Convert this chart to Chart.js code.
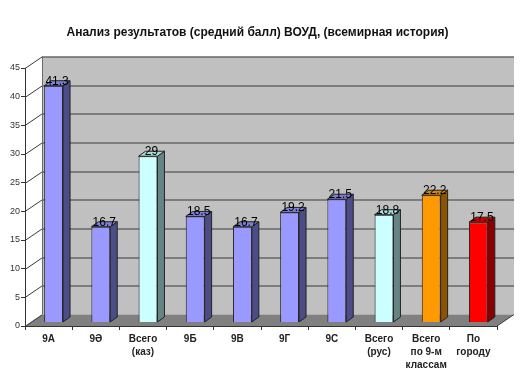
<!DOCTYPE html>
<html>
<head>
<meta charset="utf-8">
<script src="https://cdn.jsdelivr.net/npm/chart.js@4"></script>
<style>
  html, body { margin: 0; padding: 0; background: #fff; }
  #wrap { width: 520px; height: 390px; }
</style>
</head>
<body>
<div id="wrap"><canvas id="chart" width="520" height="390"></canvas></div>
<script>
// Chart data
const categories = ['9А', '9Ә', ['Всего', '(каз)'], '9Б', '9В', '9Г', '9С', ['Всего', '(рус)'], ['Всего', 'по 9-м', 'классам'], ['По', 'городу']];
const values = [41.3, 16.7, 29, 18.5, 16.7, 19.2, 21.5, 18.8, 22.2, 17.5];
const yMax = 45;
const yStep = 5;

// Bar colours (front / side / top)
const frontColors = ['#9999FF', '#9999FF', '#CCFFFF', '#9999FF', '#9999FF', '#9999FF', '#9999FF', '#CCFFFF', '#FF9900', '#FF0000'];
const sideColors  = ['#4C4C86', '#4C4C86', '#658585', '#4C4C86', '#4C4C86', '#4C4C86', '#4C4C86', '#658585', '#8A5400', '#8A0000'];
const topColors   = ['#7F7FD6', '#7F7FD6', '#A8DADA', '#7F7FD6', '#7F7FD6', '#7F7FD6', '#7F7FD6', '#A8DADA', '#D98400', '#CC0000'];

const FONT = '"Liberation Sans", Arial, sans-serif';

// 3D look: wall depth, bar offset and bar depth
const wallDepth = { x: 17, y: -11.5 };
const barShift = { x: 5, y: -3.5 };
const barDepth = { x: 7, y: -5 };

const box3d = {
    id: 'box3d',
    afterLayout(chart) {
        // title sits centred over the plot, not the whole canvas
        const t = chart.titleBlock;
        if (t) { t.left += 9; t.right += 9; }
    },
    beforeDatasetsDraw(chart) {
        const ctx = chart.ctx;
        const area = chart.chartArea;
        const y = chart.scales.y;
        const dx = wallDepth.x, dy = wallDepth.y;
        ctx.save();
        // back wall
        ctx.fillStyle = '#C0C0C0';
        ctx.fillRect(area.left + dx, area.top + dy, area.right - area.left, area.bottom - area.top);
        // floor
        ctx.fillStyle = '#808080';
        ctx.beginPath();
        ctx.moveTo(area.left, area.bottom);
        ctx.lineTo(area.right, area.bottom);
        ctx.lineTo(area.right + dx, area.bottom + dy);
        ctx.lineTo(area.left + dx, area.bottom + dy);
        ctx.closePath();
        ctx.fill();
        // grid lines on side and back walls
        ctx.strokeStyle = '#3A3A3A';
        ctx.lineWidth = 1;
        y.ticks.forEach(t => {
            const py = Math.round(y.getPixelForValue(t.value)) + 0.5;
            ctx.beginPath();
            ctx.moveTo(area.left, py);
            ctx.lineTo(area.left + dx, py + dy);
            if (t.value > 0) ctx.lineTo(area.right + dx, py + dy);
            ctx.stroke();
        });
        // wall edges
        ctx.strokeStyle = '#6A6A6A';
        ctx.beginPath();
        ctx.moveTo(area.left + dx + 0.5, area.top + dy);
        ctx.lineTo(area.left + dx + 0.5, area.bottom + dy);
        ctx.stroke();
        ctx.strokeStyle = '#3A3A3A';
        ctx.beginPath();
        ctx.moveTo(area.right, area.bottom);
        ctx.lineTo(area.right + dx, area.bottom + dy);
        ctx.stroke();
        ctx.restore();

        // shift bars into the middle of the depth
        ctx.save();
        ctx.translate(barShift.x, barShift.y);
    },
    afterDatasetsDraw(chart) {
        const ctx = chart.ctx;
        const meta = chart.getDatasetMeta(0);
        const bx = barDepth.x, by = barDepth.y;
        meta.data.forEach((bar, i) => {
            const p = bar.getProps(['x', 'y', 'base', 'width'], true);
            const l = p.x - p.width / 2, r = p.x + p.width / 2;
            ctx.lineWidth = 1;
            ctx.strokeStyle = '#222';
            // side face
            ctx.fillStyle = sideColors[i];
            ctx.beginPath();
            ctx.moveTo(r, p.base);
            ctx.lineTo(r + bx, p.base + by);
            ctx.lineTo(r + bx, p.y + by);
            ctx.lineTo(r, p.y);
            ctx.closePath();
            ctx.fill();
            ctx.stroke();
            // top face
            ctx.fillStyle = topColors[i];
            ctx.beginPath();
            ctx.moveTo(l, p.y);
            ctx.lineTo(l + bx, p.y + by);
            ctx.lineTo(r + bx, p.y + by);
            ctx.lineTo(r, p.y);
            ctx.closePath();
            ctx.fill();
            ctx.stroke();
        });
        // value labels
        ctx.fillStyle = '#000';
        ctx.font = '12px ' + FONT;
        ctx.textAlign = 'center';
        ctx.textBaseline = 'alphabetic';
        meta.data.forEach((bar, i) => {
            const p = bar.getProps(['x', 'y'], true);
            ctx.fillText(String(values[i]), p.x + bx / 2, p.y - 1);
        });
        ctx.restore();
    }
};

const ctx = document.getElementById('chart').getContext('2d');
const chart = new Chart(ctx, {
    type: 'bar',
    data: {
        labels: categories,
        datasets: [{
            data: values,
            backgroundColor: frontColors,
            borderColor: '#222',
            borderWidth: 1,
            barPercentage: 0.4,
            categoryPercentage: 1,
            clip: false
        }]
    },
    options: {
        responsive: false,
        animation: false,
        devicePixelRatio: 1,
        layout: { padding: { left: 0, right: 23, bottom: 0 } },
        plugins: {
            legend: { display: false },
            tooltip: { enabled: false },
            title: {
                display: true,
                text: 'Анализ результатов (средний балл) ВОУД, (всемирная история)',
                color: '#111',
                font: { family: FONT, size: 12, weight: 'bold' },
                padding: { top: 25, bottom: 28.6 }
            }
        },
        scales: {
            x: {
                offset: true,
                grid: { display: true, offset: true, drawOnChartArea: false, drawTicks: true, tickLength: 4, color: '#333' },
                border: { display: true, color: '#333' },
                ticks: {
                    color: '#222',
                    padding: 3,
                    maxRotation: 0,
                    autoSkip: false,
                    font: { family: FONT, size: 10, weight: 'bold', lineHeight: 1.3 }
                },
                afterFit(scale) { scale.height = 64; }
            },
            y: {
                min: 0,
                max: yMax,
                grid: { display: true, drawOnChartArea: false, drawTicks: true, tickLength: 4, color: '#333' },
                border: { display: true, color: '#333' },
                ticks: {
                    stepSize: yStep,
                    color: '#333',
                    padding: 1,
                    font: { family: FONT, size: 9 }
                },
                afterFit(scale) { scale.width = 25; }
            }
        }
    },
    plugins: [box3d]
});
</script>
</body>
</html>
